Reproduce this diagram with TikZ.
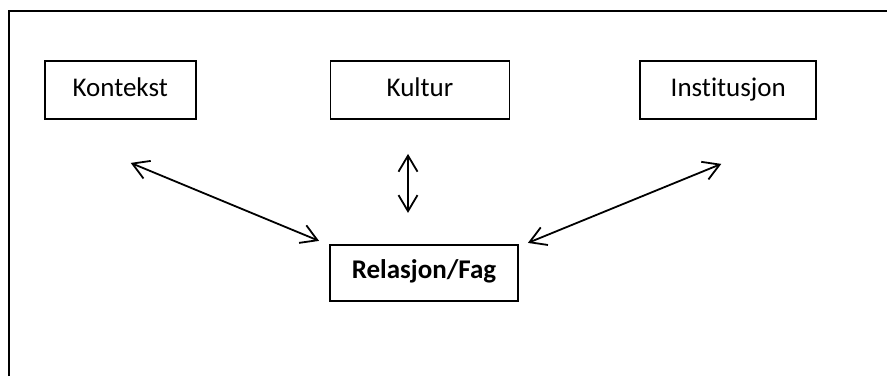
\documentclass[tikz,border=0pt]{standalone}
\usepackage{fontspec}
\setmainfont{Carlito}[Ligatures=NoCommon]
\usetikzlibrary{arrows.meta,positioning,calc}
\tikzset{
  box/.style={shape=rectangle,draw,line width=1.8pt,minimum height=58pt,inner sep=0pt,
    text height=17pt,text depth=5pt,font=\fontsize{27}{30}\selectfont},
  link/.style={line width=1.8pt,<->},
}

\begin{document}
\begin{tikzpicture}[x=1pt,y=-1pt,>={Straight Barb[length=16pt,width=19pt]}]
    \useasboundingbox (0,0) rectangle (887,376);
    % frame
    \draw[line width=2.2pt] (9,376) -- (9,11) -- (887,11);

    % create the nodes
    \node (kultur)[box, minimum width=179pt] at (420,90) {Kultur};
    \node (kontekst)[box, minimum width=151pt, left=133pt of kultur] {Kontekst};
    \node (inst)[box, minimum width=176pt, right=129pt of kultur] {Institusjon};
    \node (relasjon)[box, minimum width=188pt, minimum height=56pt, below=124pt of kultur, xshift=4pt] {\bfseries Relasjon/Fag};

    % connect the nodes
    \draw[link] ($(kontekst.south)+(10.5,43)$) -- ($(relasjon.north west)+(-10,-3)$);
    \draw[link] ($(kultur.south)+(-12,34)$) -- ($(relasjon.north)+(-16,-31)$);
    \draw[link] ($(inst.south)+(-7,44)$) -- ($(relasjon.north east)+(9,-1)$);

\end{tikzpicture}
\end{document}
